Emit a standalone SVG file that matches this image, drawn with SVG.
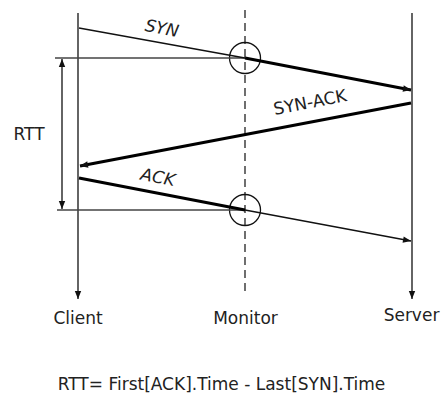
<svg xmlns="http://www.w3.org/2000/svg" width="443" height="396" viewBox="0 0 443 396">
<style>
.t{font-family:"DejaVu Sans",Verdana,sans-serif;font-size:17px;fill:#222}
.i{font-style:italic}
.thin{stroke:#111;stroke-width:1.3;fill:none}
.thick{stroke:#000;stroke-width:3.2;fill:none}
.ref{stroke:#444;stroke-width:1.3;fill:none}
</style>
<defs>
<marker id="ah" viewBox="0 0 10 10" refX="10" refY="5" markerWidth="10" markerHeight="8" markerUnits="userSpaceOnUse" orient="auto">
<path d="M0,1 L10,5 L0,9 Z" fill="#111"/>
</marker>
<marker id="ahs" viewBox="0 0 10 10" refX="10" refY="5" markerWidth="10" markerHeight="8" markerUnits="userSpaceOnUse" orient="auto-start-reverse">
<path d="M0,1 L10,5 L0,9 Z" fill="#111"/>
</marker>
</defs>
<rect width="443" height="396" fill="#fff"/>
<g id="client">
<line class="thin" x1="78" y1="13" x2="78" y2="299" marker-end="url(#ah)"/>
<text class="t" x="78" y="324" text-anchor="middle">Client</text>
</g>
<g id="monitor">
<line x1="245" y1="10" x2="245" y2="296" stroke="#222" stroke-width="1.3" stroke-dasharray="8,5"/>
<circle cx="245" cy="58" r="15.5" class="thin"/>
<circle cx="245" cy="210" r="15.5" class="thin"/>
<text class="t" x="245.5" y="324" text-anchor="middle">Monitor</text>
</g>
<g id="server">
<line class="thin" x1="412" y1="13" x2="412" y2="299" marker-end="url(#ah)"/>
<text class="t" x="411.5" y="321" text-anchor="middle">Server</text>
</g>
<g id="connectors">
<line class="ref" x1="55" y1="58" x2="245" y2="58"/>
<line class="ref" x1="57" y1="210" x2="245" y2="210"/>
<line class="thin" x1="62" y1="59" x2="62" y2="209" marker-start="url(#ahs)" marker-end="url(#ah)"/>
<line class="thin" x1="79" y1="28" x2="245" y2="58"/>
<line class="thick" x1="245" y1="58" x2="411" y2="90" marker-end="url(#ah)"/>
<line class="thick" x1="411" y1="103" x2="80" y2="166" marker-end="url(#ah)"/>
<line class="thick" x1="79" y1="178" x2="245" y2="210"/>
<line class="thin" x1="245" y1="210" x2="411" y2="241" marker-end="url(#ah)"/>
</g>
<g id="labels">
<text class="t i" transform="translate(162,28) rotate(11)" x="0" y="6" text-anchor="middle">SYN</text>
<text class="t" transform="translate(310,102) rotate(-11)" x="0" y="6" text-anchor="middle">SYN-ACK</text>
<text class="t i" transform="translate(158,177) rotate(11)" x="0" y="6" text-anchor="middle">ACK</text>
<text class="t" x="29" y="140" text-anchor="middle" font-size="16">RTT</text>
<text class="t" x="221.5" y="390" text-anchor="middle" font-size="17.8">RTT= First[ACK].Time - Last[SYN].Time</text>
</g>
</svg>
